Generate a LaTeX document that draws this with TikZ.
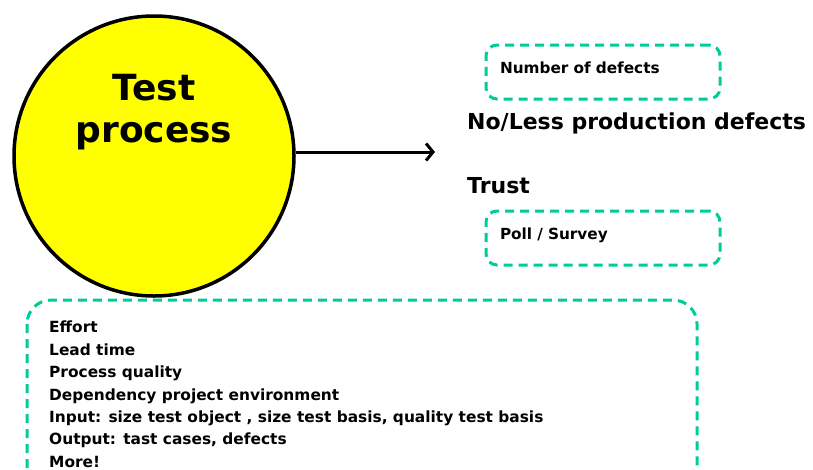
\documentclass[tikz,border=0pt]{standalone}
\usepackage{fontspec}
\setmainfont{DejaVu Sans}
\usetikzlibrary{arrows.meta}

\definecolor{measgreen}{RGB}{0,204,153}
\definecolor{procyellow}{RGB}{255,255,0}

\begin{document}
\begin{tikzpicture}[
    x=1pt, y=-1pt,
    process/.style={
      draw,
      circle,
      line width=3.5pt,
      fill=procyellow,
      minimum size=280pt,
      inner sep=0pt
    },
    goal/.style={
      anchor=base west,
      inner sep=0pt,
      font=\bfseries\fontsize{22}{26}\selectfont
    },
    measure/.style={
      draw=measgreen,
      line width=3pt,
      dash pattern=on 9pt off 6pt,
      rounded corners=11pt,
      minimum width=234pt,
      minimum height=54pt,
      text width=206pt,
      text height=11pt,
      text depth=8pt,
      align=left,
      font=\bfseries\fontsize{15.3}{22}\selectfont
    }
  ]
    \useasboundingbox (0,0) rectangle (813,469);

    \node[process] (process) at (154,156) {};
    \node[align=center, font=\bfseries\fontsize{36}{42}\selectfont] (proctext) at (154,112) {Test\\process};

    \coordinate (result) at (435,152);
    \draw[line width=3pt, -{Straight Barb[length=7pt,width=17pt]}] (process.east |- result) -- (result);

    \node[measure] (defects) at (603,72) {Number of defects};
    \node[goal] (noless) at (467,129) {No/Less production defects};
    \node[goal] (trust) at (467,193) {Trust};
    \node[measure] (poll) at (603,238) {Poll / Survey};

    % internal measures, box runs off the bottom edge
    \draw[draw=measgreen, line width=3pt, dash pattern=on 9pt off 6pt, rounded corners=24pt]
      (27,300) rectangle (697,490);
    \node[anchor=north west, align=left, inner sep=0pt,
          font=\bfseries\fontsize{15.4}{22.4}\selectfont] (internal) at (49,321)
      {Effort\\
       Lead time\\
       Process quality\\
       Dependency project environment\\
       Input: size test object , size test basis, quality test basis\\
       Output: tast cases, defects\\
       More!};
  \end{tikzpicture}
\end{document}
